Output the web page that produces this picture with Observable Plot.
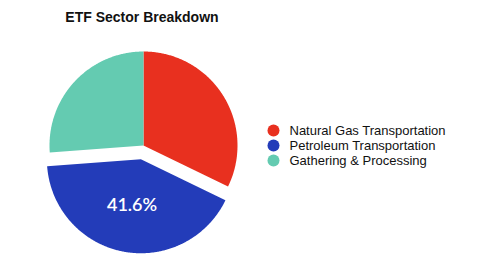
<!DOCTYPE html>
<html>
<head>
<meta charset="utf-8">
<script src="https://cdn.jsdelivr.net/npm/d3@7"></script>
<script src="https://cdn.jsdelivr.net/npm/@observablehq/plot@0.6"></script>
<style>
  html, body { margin: 0; padding: 0; background: #fff; }
  #chart { position: relative; width: 484px; height: 267px; overflow: hidden; }
  #title { position: absolute; left: 0; top: 10px; width: 284px; text-align: center;
           font: bold 14px "Liberation Sans", Arial, sans-serif; line-height: 14px; color: #111; }
  #pie { position: absolute; left: 0; top: 0; }
  #legend { position: absolute; left: 263px; top: 120px; }
</style>
</head>
<body>
<div id="chart">
  <div id="title">ETF Sector Breakdown</div>
  <div id="pie"></div>
  <div id="legend"></div>
</div>
<script>
const categories = ["Natural Gas Transportation", "Petroleum Transportation", "Gathering & Processing"];
const shares = [32.2, 41.6, 26.2];
const colors = ["#e8301f", "#233cb9", "#64cbb1"];
const exploded = ["Petroleum Transportation"];
const labelled = ["Petroleum Transportation"];

// Build slice outlines from the values using d3.pie (angles clockwise from 12 o'clock)
const arcs = d3.pie().sort(null).value((d) => d.value)(categories.map((c, i) => ({name: c, value: shares[i]})));
const explode = 0.149;
const pts = [];
const labels = [];
for (const a of arcs) {
  const mid = (a.startAngle + a.endAngle) / 2;
  const off = exploded.includes(a.data.name) ? explode : 0;
  const cx = off * Math.sin(mid), cy = -off * Math.cos(mid);
  pts.push({name: a.data.name, x: cx, y: cy});
  const n = Math.max(2, Math.ceil((a.endAngle - a.startAngle) / (Math.PI / 360)));
  for (let k = 0; k <= n; k++) {
    const t = a.startAngle + (a.endAngle - a.startAngle) * k / n;
    pts.push({name: a.data.name, x: cx + Math.sin(t), y: cy - Math.cos(t)});
  }
  pts.push({name: a.data.name, x: cx, y: cy});
  if (labelled.includes(a.data.name)) {
    labels.push({name: a.data.name, x: cx + 0.5 * Math.sin(mid), y: cy - 0.5 * Math.cos(mid),
                 text: d3.format(".1f")(a.data.value) + "%"});
  }
}

const pie = Plot.plot({
  width: 484, height: 267,
  margin: 0,
  x: {domain: [-1, 1], range: [49, 237], axis: null},
  y: {domain: [-1, 1], range: [51, 239], axis: null},
  color: {domain: categories, range: colors},
  marks: [
    Plot.line(pts, {x: "x", y: "y", z: "name", fill: "name", stroke: null, curve: "linear"}),
    Plot.text(labels, {x: "x", y: "y", text: "text", fill: "white",
      fontSize: 18, fontWeight: 600, fontFamily: "Lato, 'Open Sans', sans-serif"})
  ],
  style: {background: "transparent", overflow: "visible"}
});
document.getElementById("pie").appendChild(pie);

const legend = Plot.plot({
  width: 220, height: 50,
  margin: 0,
  x: {domain: [0, 1], range: [10, 210], axis: null},
  y: {type: "point", domain: categories, range: [10, 40], padding: 0, axis: null},
  color: {domain: categories, range: colors},
  marks: [
    Plot.dot(categories, {x: () => 0, y: (d) => d, fill: (d) => d, r: 6, stroke: null}),
    Plot.text(categories, {x: () => 0, y: (d) => d, text: (d) => d, dx: 16, textAnchor: "start",
      fill: "#111", fontSize: 13, fontFamily: "'Liberation Sans', Arial, sans-serif"})
  ],
  style: {background: "transparent", overflow: "visible"}
});
document.getElementById("legend").appendChild(legend);
</script>
</body>
</html>
